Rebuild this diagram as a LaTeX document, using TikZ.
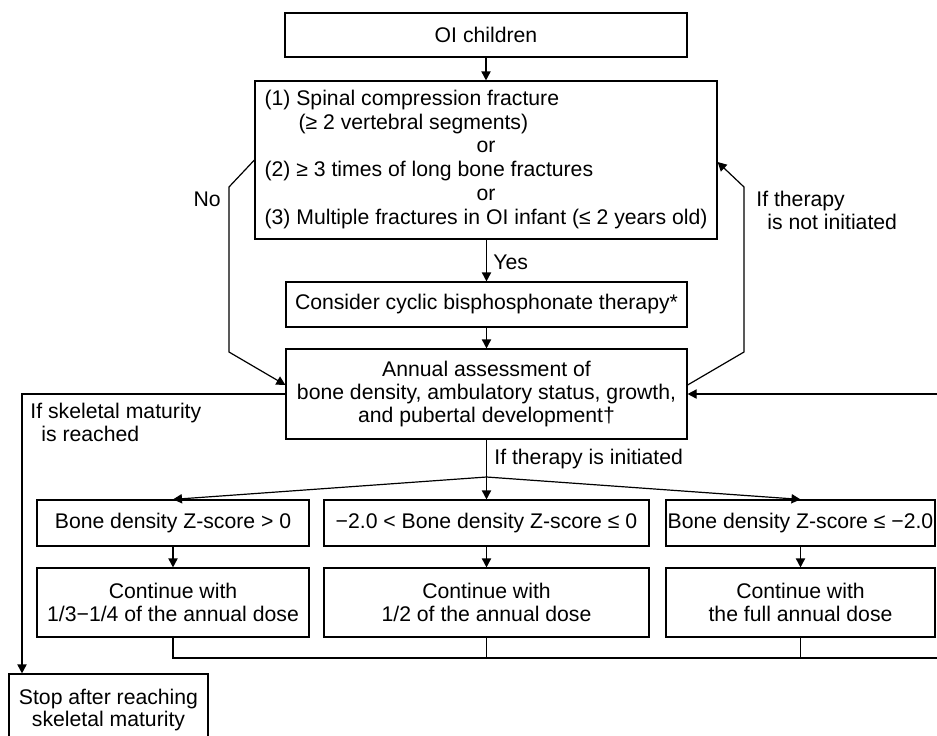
\documentclass[tikz,border=0pt]{standalone}
\usepackage{fontspec}
\setmainfont{Liberation Sans}
\usetikzlibrary{arrows.meta}

\begin{document}
\begin{tikzpicture}[x=0.5pt,y=-0.5pt,
		every node/.style={font=\fontsize{10.6}{11.4}\selectfont},
		box/.style={draw,line width=0.6pt,align=center,inner sep=0pt},
		lbl/.style={align=left,inner sep=0pt},
		link/.style={line width=0.6pt},
		arr/.style={line width=0.6pt,-{Triangle[length=4.5pt,width=4.6pt]}}]
		\useasboundingbox (0,0) rectangle (937,735);
		% top of the chart
		\node[box,minimum width=201pt,minimum height=22pt] (oi) at (486,35) {OI children};
		\node[box,minimum width=231pt,minimum height=79pt] (crit) at (486,160) {\renewcommand\arraystretch{1.04}\begin{tabular}{@{}l@{}}
			(1) Spinal compression fracture\\
			\hspace*{17pt}(≥ 2 vertebral segments)\\
			\multicolumn{1}{@{}c@{}}{or}\\
			(2) ≥ 3 times of long bone fractures\\
			\multicolumn{1}{@{}c@{}}{or}\\
			(3) Multiple fractures in OI infant (≤ 2 years old)
		\end{tabular}};
		\node[box,minimum width=200.5pt,minimum height=22.5pt] (cons) at (486.5,304.5) {Consider cyclic bisphosphonate therapy*};
		\node[box,minimum width=200.5pt,minimum height=45pt] (ann) at (486.5,394) {Annual assessment of\\bone density, ambulatory status, growth,\\and pubertal development†};
		\draw[arr] (oi) -- (crit);
		\draw[arr] (crit.south -| cons) -- (cons);
		\node[lbl,anchor=base west] (yes) at (493,269) {Yes};
		\draw[arr] (cons) -- (ann);
		% no / not initiated loops
		\coordinate (no1) at (229,187);
		\coordinate (no2) at (229,352);
		\draw[arr] (crit.west) -- (no1) -- (no2) -- ([yshift=4.5pt]ann.west);
		\node[lbl,anchor=base east] (no) at (221,206) {No};
		\coordinate (ni1) at (744,352);
		\coordinate (ni2) at (744,187);
		\draw[arr] ([yshift=4.5pt]ann.east) -- (ni1) -- (ni2) -- ([yshift=-1pt]crit.east);
		\node[lbl,anchor=base west] (notinit) at (756,229) {If therapy\\\hspace*{5.5pt}is not initiated};
		% skeletal maturity
		\node[box,minimum width=99.5pt,minimum height=36pt] (stop) at (108.5,710) {Stop after reaching\\skeletal maturity};
		\coordinate (sk) at (22,394);
		\draw[arr] (ann.west) -- (sk) -- (sk |- stop.north);
		\node[lbl,anchor=base west] (skl) at (30,441) {If skeletal maturity\\\hspace*{5.5pt}is reached};
		% three dose branches
		\coordinate (br) at (486.5,477);
		\draw[link] (ann.south) -- (br);
		\node[lbl,anchor=base west] (init) at (494,464) {If therapy is initiated};
		\node[box,minimum width=136pt,minimum height=23pt] (b1) at (173,523) {Bone density Z-score > 0};
		\node[box,minimum width=162.5pt,minimum height=23pt] (b2) at (486.5,523) {−2.0 < Bone density Z-score ≤ 0};
		\node[box,minimum width=134.5pt,minimum height=23pt] (b3) at (800.5,523) {Bone density Z-score ≤ −2.0};
		\node[box,minimum width=136pt,minimum height=34.5pt] (c1) at (173,602.5) {Continue with\\1/3−1/4 of the annual dose};
		\node[box,minimum width=162.5pt,minimum height=34.5pt] (c2) at (486.5,602.5) {Continue with\\1/2 of the annual dose};
		\node[box,minimum width=134.5pt,minimum height=34.5pt] (c3) at (800.5,602.5) {Continue with\\the full annual dose};
		\foreach \i in {1,2,3} {
			\draw[arr] (br) -- (b\i.north);
			\draw[arr] (b\i) -- (c\i);
		}
		% back to the annual assessment
		\coordinate (back) at (950,658);
		\draw[link] (c1.south) -- (c1.south |- back) -- (back);
		\draw[link] (c2.south) -- (c2.south |- back);
		\draw[link] (c3.south) -- (c3.south |- back);
		\draw[arr] (back) -- (back |- ann.east) -- (ann.east);
	\end{tikzpicture}
\end{document}
